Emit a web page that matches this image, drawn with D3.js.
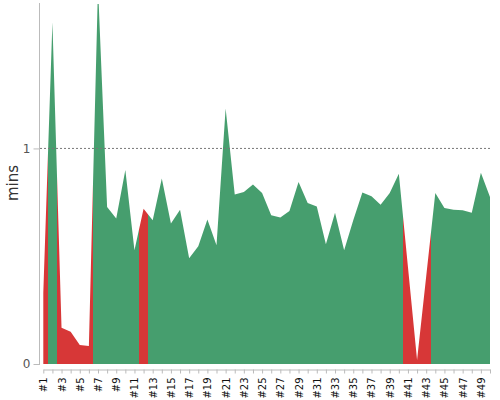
<!DOCTYPE html>
<html>
<head>
<meta charset="utf-8">
<script src="https://cdn.jsdelivr.net/npm/d3@7"></script>
<style>
  body { margin: 0; background: #fff; }
  svg { font-family: "DejaVu Sans", sans-serif; }
</style>
</head>
<body>
<div id="chart"></div>
<script>
// run labels #1..#50
const runs = d3.range(1, 51).map(i => "#" + i);

// duration per run, minutes
const mins = [0.33, 1.585, 0.168, 0.15, 0.088, 0.083, 1.75, 0.728, 0.675, 0.90,
              0.528, 0.72, 0.667, 0.86, 0.652, 0.716, 0.49, 0.546, 0.67, 0.551,
              1.185, 0.786, 0.798, 0.833, 0.793, 0.69, 0.68, 0.71, 0.844, 0.747,
              0.731, 0.555, 0.702, 0.528, 0.667, 0.795, 0.778, 0.739, 0.793, 0.883,
              0.45, 0.018, 0.406, 0.793, 0.724, 0.716, 0.713, 0.702, 0.887, 0.775];

// run status: 1 = passed, 0 = failed
const passed = [0, 1, 0, 0, 0, 0, 1, 1, 1, 1,
                1, 0, 1, 1, 1, 1, 1, 1, 1, 1,
                1, 1, 1, 1, 1, 1, 1, 1, 1, 1,
                1, 1, 1, 1, 1, 1, 1, 1, 1, 1,
                0, 0, 0, 1, 1, 1, 1, 1, 1, 1];

const yTicks = [0, 1];

const green = "#469e6e", red = "#d73737";
const font = "DejaVu Sans, sans-serif";

const width = 500, height = 400;
const svg = d3.select("#chart").append("svg")
  .attr("width", width)
  .attr("height", height);

const x = d3.scalePoint().domain(runs).range([43.3, 490]);
const y = d3.scaleLinear().domain([0, 1.67]).range([364, 4]);
const step = x.step();

// hard-stop gradient, one colour per run band
const grad = svg.append("defs").append("linearGradient")
  .attr("id", "status")
  .attr("gradientUnits", "userSpaceOnUse")
  .attr("x1", x(runs[0])).attr("x2", x(runs[runs.length - 1]))
  .attr("y1", 0).attr("y2", 0);

const x0 = x(runs[0]), span = x(runs[runs.length - 1]) - x0;
runs.forEach((r, i) => {
  const a = Math.max(0, (x(r) - step / 2 - x0) / span);
  const b = Math.min(1, (x(r) + step / 2 - x0) / span);
  const c = passed[i] ? green : red;
  grad.append("stop").attr("offset", a).attr("stop-color", c);
  grad.append("stop").attr("offset", b).attr("stop-color", c);
});

svg.select("defs").append("clipPath").attr("id", "plot")
  .append("rect").attr("x", 40).attr("y", 4).attr("width", 460).attr("height", 362);

const area = d3.area()
  .x((d, i) => x(runs[i]))
  .y0(y(0))
  .y1(d => y(d));

svg.append("path")
  .datum(mins)
  .attr("clip-path", "url(#plot)")
  .attr("fill", "url(#status)")
  .attr("d", area);

// dashed gridline at 1 min
svg.append("g")
  .selectAll("line")
  .data(yTicks.filter(t => t > 0))
  .join("line")
    .attr("x1", 40).attr("x2", 490)
    .attr("y1", d => y(d)).attr("y2", d => y(d))
    .attr("stroke", "#777")
    .attr("stroke-width", 1)
    .attr("stroke-dasharray", "2,2");

// y axis
const yAxis = svg.append("g")
  .attr("transform", "translate(39.5,0)")
  .call(d3.axisLeft(y).tickValues(yTicks).tickFormat(d3.format("d"))
    .tickSize(6).tickSizeOuter(0))
  .attr("font-family", font);
yAxis.select(".domain").attr("d", "M0,3V365").attr("stroke", "#bbb");
yAxis.selectAll(".tick line").attr("stroke", "#bbb");
yAxis.selectAll("text")
  .attr("fill", "#555")
  .attr("font-size", 12)
  .attr("x", -9);

// x axis
const xAxis = svg.append("g")
  .attr("transform", "translate(0,369.5)")
  .call(d3.axisBottom(x).tickSize(4).tickSizeOuter(0)
    .tickFormat((d, i) => i % 2 === 0 ? d : ""))
  .attr("font-family", font);
xAxis.select(".domain").attr("stroke", "#bbb");
xAxis.selectAll(".tick line").attr("stroke", "#bbb");
xAxis.selectAll("text")
  .attr("fill", "#111")
  .attr("font-size", 10)
  .attr("text-anchor", "end")
  .attr("transform", "rotate(-90)")
  .attr("x", -8)
  .attr("y", 0)
  .attr("dy", "0.35em");

// axis title
svg.append("text")
  .attr("transform", "translate(18,183) rotate(-90)")
  .attr("text-anchor", "middle")
  .attr("font-size", 15)
  .attr("fill", "#333")
  .text("mins");
</script>
</body>
</html>
